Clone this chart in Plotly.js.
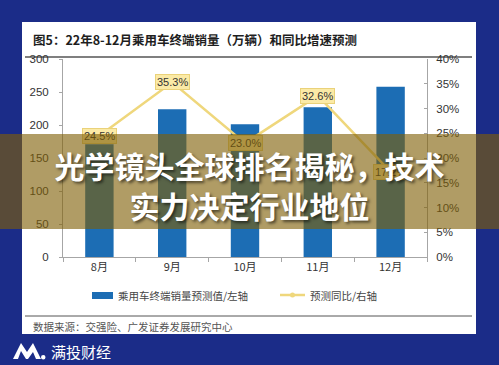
<!DOCTYPE html>
<html>
<head>
<meta charset="utf-8">
<script src="https://cdn.plot.ly/plotly-3.0.1.min.js"></script>
<style>
  html, body { margin:0; padding:0; background:#1b2c88; }
  #wrap { position:relative; width:499px; height:365px; overflow:hidden; }
  #chart { position:absolute; left:0; top:0; width:499px; height:365px; }
  #banner {
    position:absolute; left:0; top:134px; width:499px; height:95px;
    background:rgba(127,95,6,0.62);
    box-sizing:border-box; padding-top:11px;
    color:#fff; text-align:center;
    font-family:"Noto Sans CJK SC", sans-serif; font-weight:bold;
    font-size:30px; line-height:40px;
    text-shadow:2px 2px 3px rgba(0,0,0,0.55);
  }
</style>
</head>
<body>
<div id="wrap">
  <div id="chart"></div>
  <div id="banner">光学镜头全球排名揭秘，技术<br>实力决定行业地位</div>
</div>
<script>
// ---- data ----
const months = ['8月', '9月', '10月', '11月', '12月'];
const salesForecast = [171, 224, 201, 227, 258];      // 万辆, left axis
const yoyForecast = [0.245, 0.353, 0.230, 0.326, 0.172]; // right axis
const yoyLabels = ['24.5%', '35.3%', '23.0%', '32.6%', '17.2%'];
const leftTicks = [0, 50, 100, 150, 200, 250, 300];

const titleText = '图5：22年8-12月乘用车终端销量（万辆）和同比增速预测';
const sourceText = '数据来源：交强险、广发证券发展研究中心';
const legendBar = '乘用车终端销量预测值/左轴';
const legendLine = '预测同比/右轴';
const brandText = '满投财经';

// ---- geometry helpers (pixel -> paper) ----
const W = 499, H = 365;
const M = {l: 63, r: 72, t: 59, b: 108};
const PW = W - M.l - M.r, PH = H - M.t - M.b;
const px = x => (x - M.l) / PW;
const py = y => (H - M.b - y) / PH;

const barColor = '#1c6db4';
const lineColor = '#efd77c';
const axisColor = '#a6a6a6';
const cjk = '"Noto Sans CJK SC", "Liberation Sans", sans-serif';
const latin = '"Liberation Sans", Arial, sans-serif';

const traces = [
  {
    type: 'bar', x: months, y: salesForecast, name: legendBar,
    marker: {color: barColor}, width: 0.39, yaxis: 'y', hoverinfo: 'skip'
  },
  {
    type: 'scatter', mode: 'lines+markers', x: months, y: yoyForecast, name: legendLine,
    line: {color: lineColor, width: 2.5}, marker: {color: lineColor, size: 5},
    yaxis: 'y2', hoverinfo: 'skip'
  }
];

const annotations = yoyForecast.map((v, i) => ({
  x: months[i], y: v, xref: 'x', yref: 'y2', text: yoyLabels[i], showarrow: false,
  bgcolor: '#fbeaa6', bordercolor: '#ead27a', borderwidth: 1, borderpad: 1,
  font: {family: latin, size: 11, color: '#333'}
}));

annotations.push(
  {xref: 'paper', yref: 'paper', x: px(31), y: py(40), xanchor: 'left', yanchor: 'middle',
   text: '<b>' + titleText + '</b>', showarrow: false,
   font: {family: cjk, size: 12.5, color: '#1e1e1e'}},
  {xref: 'paper', yref: 'paper', x: px(31), y: py(326), xanchor: 'left', yanchor: 'middle',
   text: sourceText, showarrow: false, font: {family: cjk, size: 10.5, color: '#555'}},
  {xref: 'paper', yref: 'paper', x: px(116), y: py(295), xanchor: 'left', yanchor: 'middle',
   text: legendBar, showarrow: false, font: {family: cjk, size: 10.5, color: '#444'}},
  {xref: 'paper', yref: 'paper', x: px(308), y: py(295), xanchor: 'left', yanchor: 'middle',
   text: legendLine, showarrow: false, font: {family: cjk, size: 10.5, color: '#444'}},
  {xref: 'paper', yref: 'paper', x: px(49), y: py(351), xanchor: 'left', yanchor: 'middle',
   text: brandText, showarrow: false, font: {family: cjk, size: 15, color: '#ffffff'}}
);

function rectPx(x0, y0, x1, y1, fill, layer) {
  return {type: 'rect', xref: 'paper', yref: 'paper', x0: px(x0), x1: px(x1), y0: py(y0), y1: py(y1),
          fillcolor: fill, line: {width: 0}, layer: layer || 'below'};
}
function linePx(x0, y0, x1, y1, color, w) {
  return {type: 'line', xref: 'paper', yref: 'paper', x0: px(x0), x1: px(x1), y0: py(y0), y1: py(y1),
          line: {color: color, width: w}, layer: 'below'};
}
function pathPx(pts, fill) {
  const d = pts.map((p, i) => (i ? 'L' : 'M') + px(p[0]).toFixed(5) + ',' + py(p[1]).toFixed(5)).join(' ') + ' Z';
  return {type: 'path', xref: 'paper', yref: 'paper', path: d, fillcolor: fill, line: {width: 0}, layer: 'above'};
}

const shapes = [
  rectPx(22, 22, 476, 334, '#ffffff'),
  linePx(25, 57, 472, 57, '#555555', 1.5),
  linePx(25, 316, 472, 316, '#555555', 1),
  // legend symbols
  rectPx(92, 292, 113, 299, barColor, 'above'),
  linePx(280, 295, 305, 295, lineColor, 2.5),
  {type: 'circle', xref: 'paper', yref: 'paper', x0: px(290), x1: px(295), y0: py(297.5), y1: py(292.5),
   fillcolor: lineColor, line: {width: 0}, layer: 'above'},
  // brand logo (stylised M)
  pathPx([[13, 359], [21, 343], [27, 352], [33, 343], [41, 359], [36, 359], [33, 352], [28, 359], [26, 359], [21, 351], [18, 359]], '#ffffff'),
  {type: 'circle', xref: 'paper', yref: 'paper', x0: px(41), x1: px(45.5), y0: py(359.5), y1: py(355),
   fillcolor: '#ffffff', line: {width: 0}, layer: 'above'}
];

const layout = {
  width: W, height: H,
  margin: M,
  paper_bgcolor: '#1b2c88',
  plot_bgcolor: 'rgba(0,0,0,0)',
  showlegend: false,
  bargap: 0.6,
  xaxis: {
    type: 'category', tickson: 'boundaries', ticks: 'outside', ticklen: 4, tickcolor: axisColor,
    showline: true, linecolor: axisColor, linewidth: 1, showgrid: false, zeroline: false,
    tickfont: {family: cjk, size: 11, color: '#333'}, fixedrange: true
  },
  yaxis: {
    range: [0, 300], tickvals: leftTicks, ticks: 'outside', ticklen: 3, tickcolor: axisColor,
    showline: true, linecolor: axisColor, linewidth: 1, showgrid: false, zeroline: false,
    tickfont: {family: latin, size: 11.5, color: '#333'}, ticklabelstandoff: 8
  },
  yaxis2: {
    overlaying: 'y', side: 'right', range: [0, 0.4], dtick: 0.05, tickformat: '.0%',
    ticks: 'inside', ticklen: 3, tickcolor: axisColor,
    showline: true, linecolor: axisColor, linewidth: 1, showgrid: false, zeroline: false,
    tickfont: {family: latin, size: 11.5, color: '#333'}, ticklabelstandoff: 6
  },
  annotations: annotations,
  shapes: shapes
};

Plotly.newPlot('chart', traces, layout, {staticPlot: true, displayModeBar: false});
</script>
</body>
</html>
